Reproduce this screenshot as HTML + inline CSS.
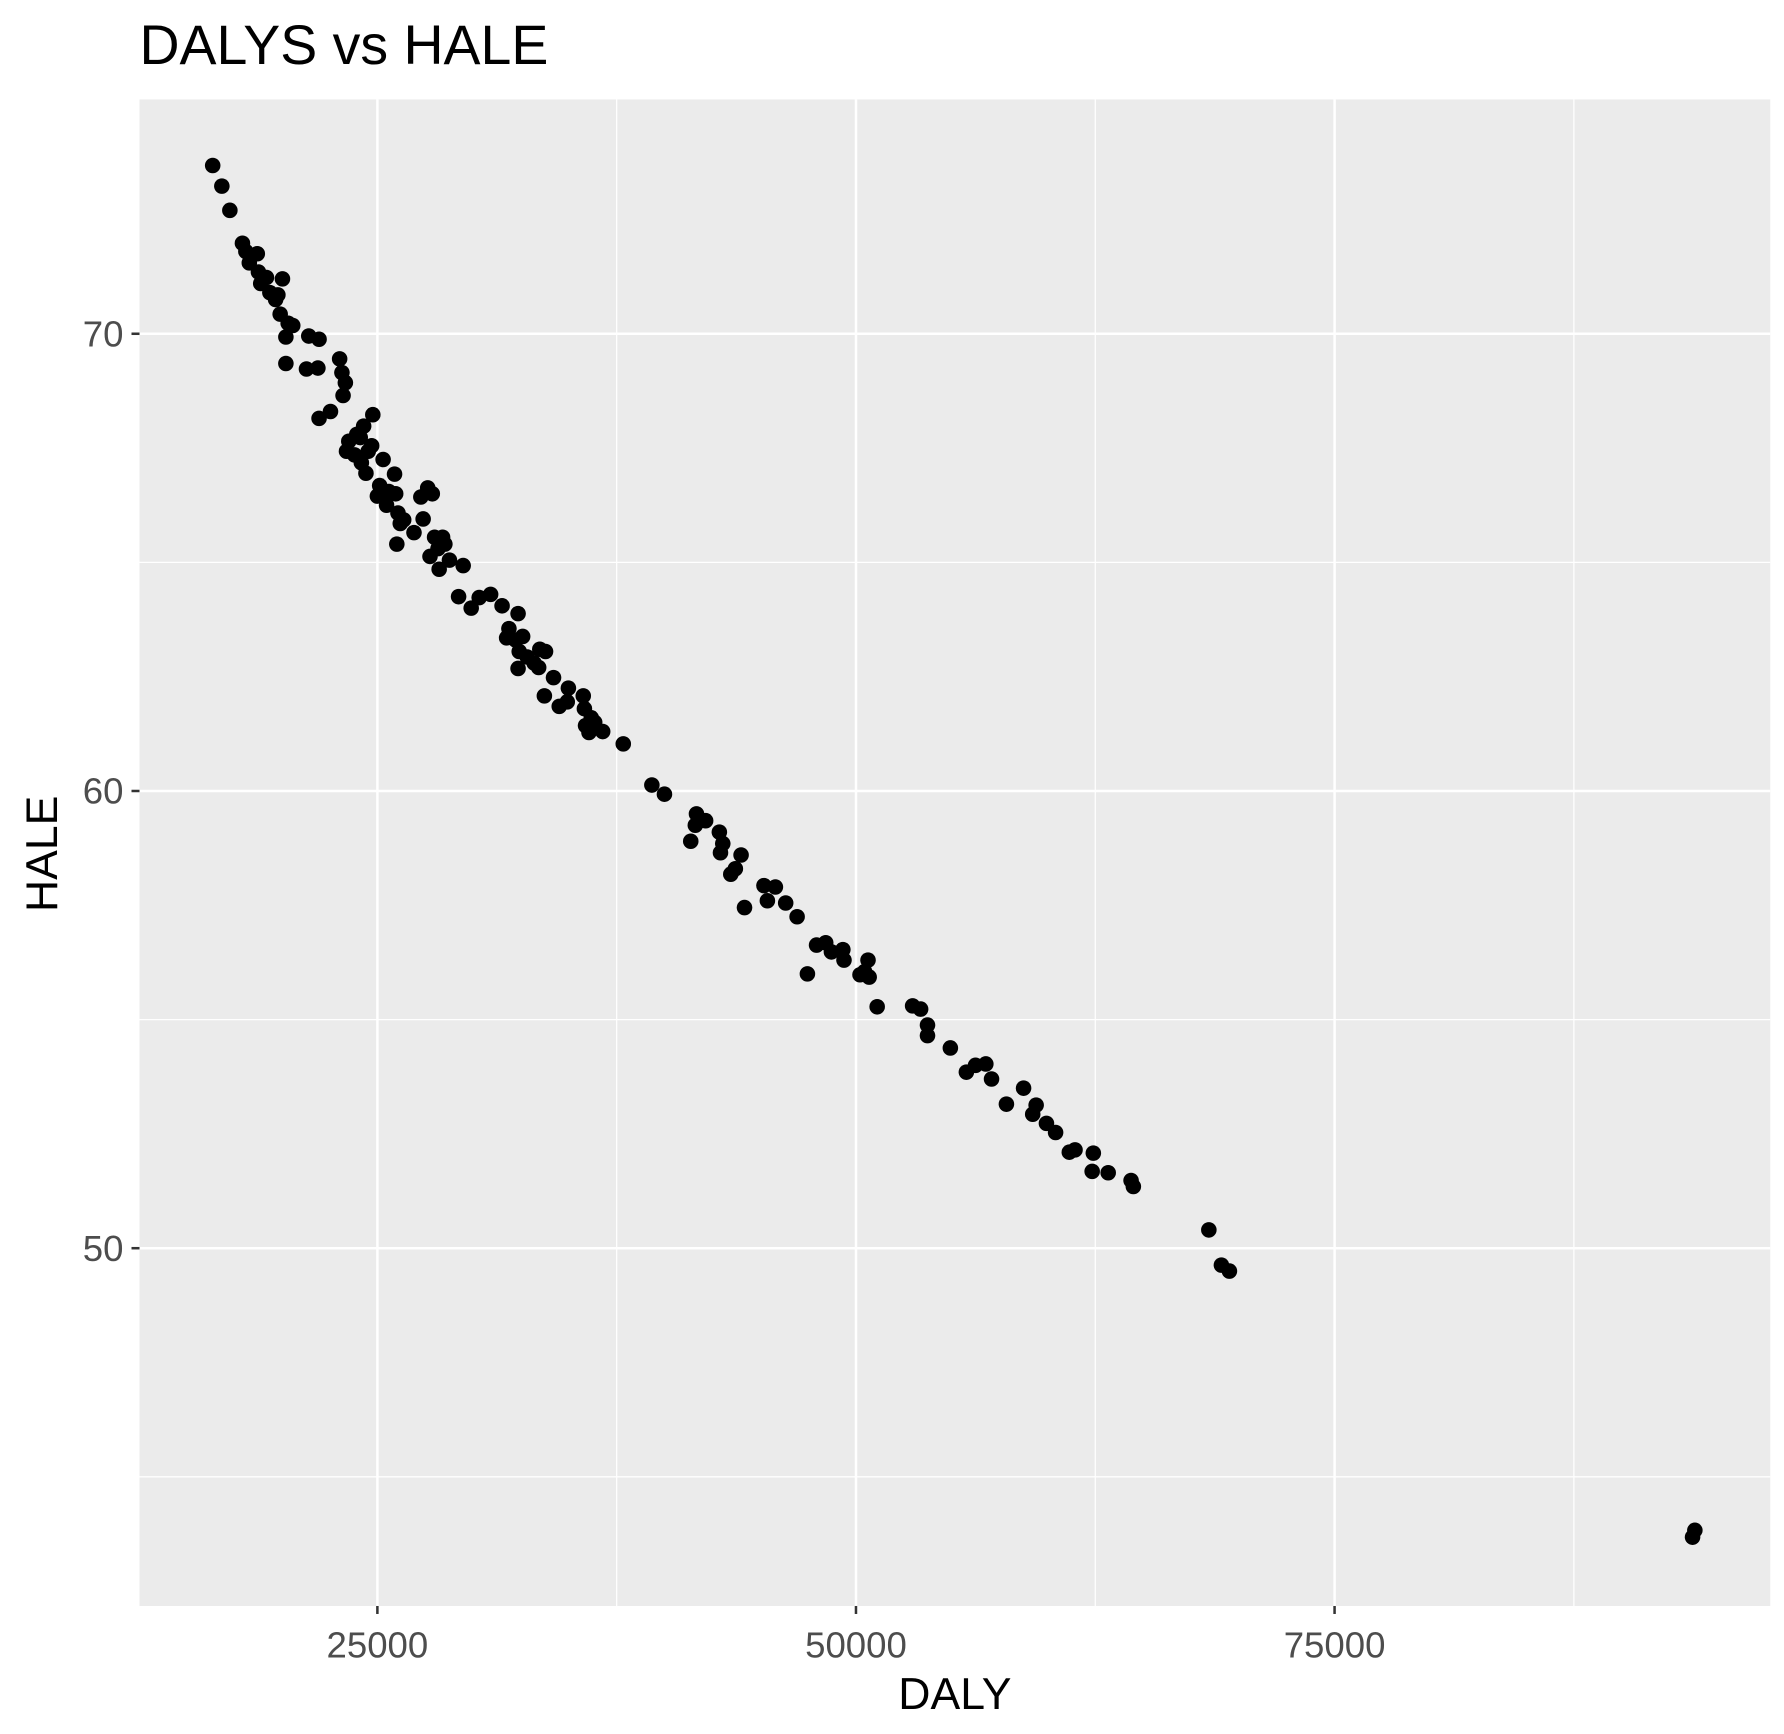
<!DOCTYPE html>
<html><head><meta charset="utf-8"><style>html,body{margin:0;padding:0;background:#fff}svg{display:block}</style></head>
<body>
<svg id="chart" width="1784" height="1734" viewBox="0 0 1560 1517" preserveAspectRatio="none" xmlns="http://www.w3.org/2000/svg" font-family="Liberation Sans, Arial, sans-serif">
<rect width="1560" height="1517" fill="#fff"/>
<text x="122" y="56" font-size="48.5" fill="#000">DALYS vs HALE</text>
<rect x="122" y="87" width="1426" height="1318" fill="#ebebeb"/>
<g id="grid"></g>
<g id="points"></g>
<g id="axes"></g>
<text x="835" y="1495" font-size="39" text-anchor="middle" fill="#000">DALY</text>
<text transform="translate(50,747) rotate(-90)" font-size="39" text-anchor="middle" fill="#000">HALE</text>
</svg>
<script>
const xTicks = [25000, 50000, 75000];
const xMinor = [12500, 37500, 62500, 87500];
const yTicks = [50, 60, 70];
const yMinor = [45, 55, 65];
const dalyValues = [16397,16875,17294,17951,18130,18310,18727,18787,18906,19205,19384,19683,20041,19802,19922,20340,20579,20220,20220,21416,21953,21296,21893,23028,23148,23327,23207,21953,22550,24761,24283,23924,23506,23387,23805,24104,24522,24701,24163,24402,25299,25896,25120,25000,25598,25956,25478,26075,26374,26195,26015,26912,27390,27629,27868,27270,27988,28406,27749,28167,28525,28227,28764,29481,29242,29900,30318,30915,31513,32349,31871,31752,32230,32588,32409,32827,32349,33186,33484,33783,33425,34201,33723,34978,34500,35754,34918,35814,36173,35874,36352,36053,36769,37844,39338,39995,41668,41608,42146,41369,42863,43042,42922,43998,43699,43460,44177,45193,45790,45372,46328,46925,47463,47941,48419,48717,49315,49374,50211,50629,50450,50689,51107,52959,53377,53736,53736,54930,55767,56245,56783,57081,57858,58754,59411,59232,59949,60427,61144,61442,62398,62338,63175,64370,64489,68432,69089,69507,93820,93700];
const haleValues = [73.68,73.23,72.7,71.98,71.8,71.55,71.75,71.35,71.1,71.23,70.9,70.75,71.2,70.85,70.43,70.23,70.18,69.93,69.35,69.95,69.88,69.23,69.25,69.45,69.15,68.93,68.65,68.15,68.3,68.23,67.98,67.8,67.65,67.43,67.35,67.73,67.43,67.55,67.18,66.95,67.25,66.93,66.68,66.45,66.55,66.5,66.25,66.08,65.93,65.85,65.4,65.65,65.95,66.63,66.5,66.43,65.55,65.55,65.13,65.3,65.4,64.85,65.05,64.93,64.25,64.0,64.23,64.3,64.05,63.88,63.55,63.35,63.3,63.38,63.05,62.93,62.68,62.8,63.1,63.05,62.7,62.48,62.08,62.25,61.85,62.08,61.95,61.8,61.6,61.43,61.5,61.28,61.3,61.03,60.13,59.93,59.5,59.25,59.35,58.9,59.1,58.85,58.65,58.6,58.3,58.18,57.45,57.93,57.9,57.6,57.55,57.25,56.0,56.63,56.68,56.48,56.53,56.3,55.98,56.3,56.05,55.93,55.28,55.3,55.23,54.88,54.65,54.38,53.85,54.0,54.03,53.7,53.15,53.5,53.13,52.93,52.73,52.53,52.1,52.15,52.08,51.68,51.65,51.48,51.35,50.4,49.63,49.5,43.83,43.68];

const NS = 'http://www.w3.org/2000/svg';
function xScale(v){ return 330 + (v - 25000) * (418.5/25000); }
function yScale(v){ return 292 + (70 - v) * 40; }
function mk(tag, attrs, parent){ const e = document.createElementNS(NS, tag); for (const k in attrs) e.setAttribute(k, attrs[k]); parent.appendChild(e); return e; }

const grid = document.getElementById('grid');
const axes = document.getElementById('axes');
const pts = document.getElementById('points');

xMinor.forEach(v => { const l = mk('line', {x1:xScale(v), x2:xScale(v), y1:87, y2:1405, stroke:'#fff', 'stroke-width':1.1}, grid);
  
   });
yMinor.forEach(v => { const l = mk('line', {x1:122, x2:1548, y1:yScale(v), y2:yScale(v), stroke:'#fff', 'stroke-width':1.1}, grid);
  
   });
xTicks.forEach(v => {
  const l = mk('line', {x1:xScale(v), x2:xScale(v), y1:87, y2:1405, stroke:'#fff', 'stroke-width':2.2}, grid);
  
  
  const t = mk('line', {x1:xScale(v), x2:xScale(v), y1:1405, y2:1412, stroke:'#333', 'stroke-width':2.2}, axes);
  
  
  const tx = mk('text', {x:xScale(v), y:1450, 'font-size':32, 'text-anchor':'middle', fill:'#4d4d4d'}, axes);
  tx.textContent = v;
  
  
});
yTicks.forEach(v => {
  const l = mk('line', {x1:122, x2:1548, y1:yScale(v), y2:yScale(v), stroke:'#fff', 'stroke-width':2.2}, grid);
  
  
  const t = mk('line', {x1:115, x2:122, y1:yScale(v), y2:yScale(v), stroke:'#333', 'stroke-width':2.2}, axes);
  
  
  const tx = mk('text', {x:108, y:yScale(v)+11, 'font-size':32, 'text-anchor':'end', fill:'#4d4d4d'}, axes);
  tx.textContent = v;
  
  
});
dalyValues.forEach((d, i) => {
  const c = mk('circle', {cx:xScale(d), cy:yScale(haleValues[i]), r:6.8, fill:'#000'}, pts);
  
  
});
</script>
</body></html>
